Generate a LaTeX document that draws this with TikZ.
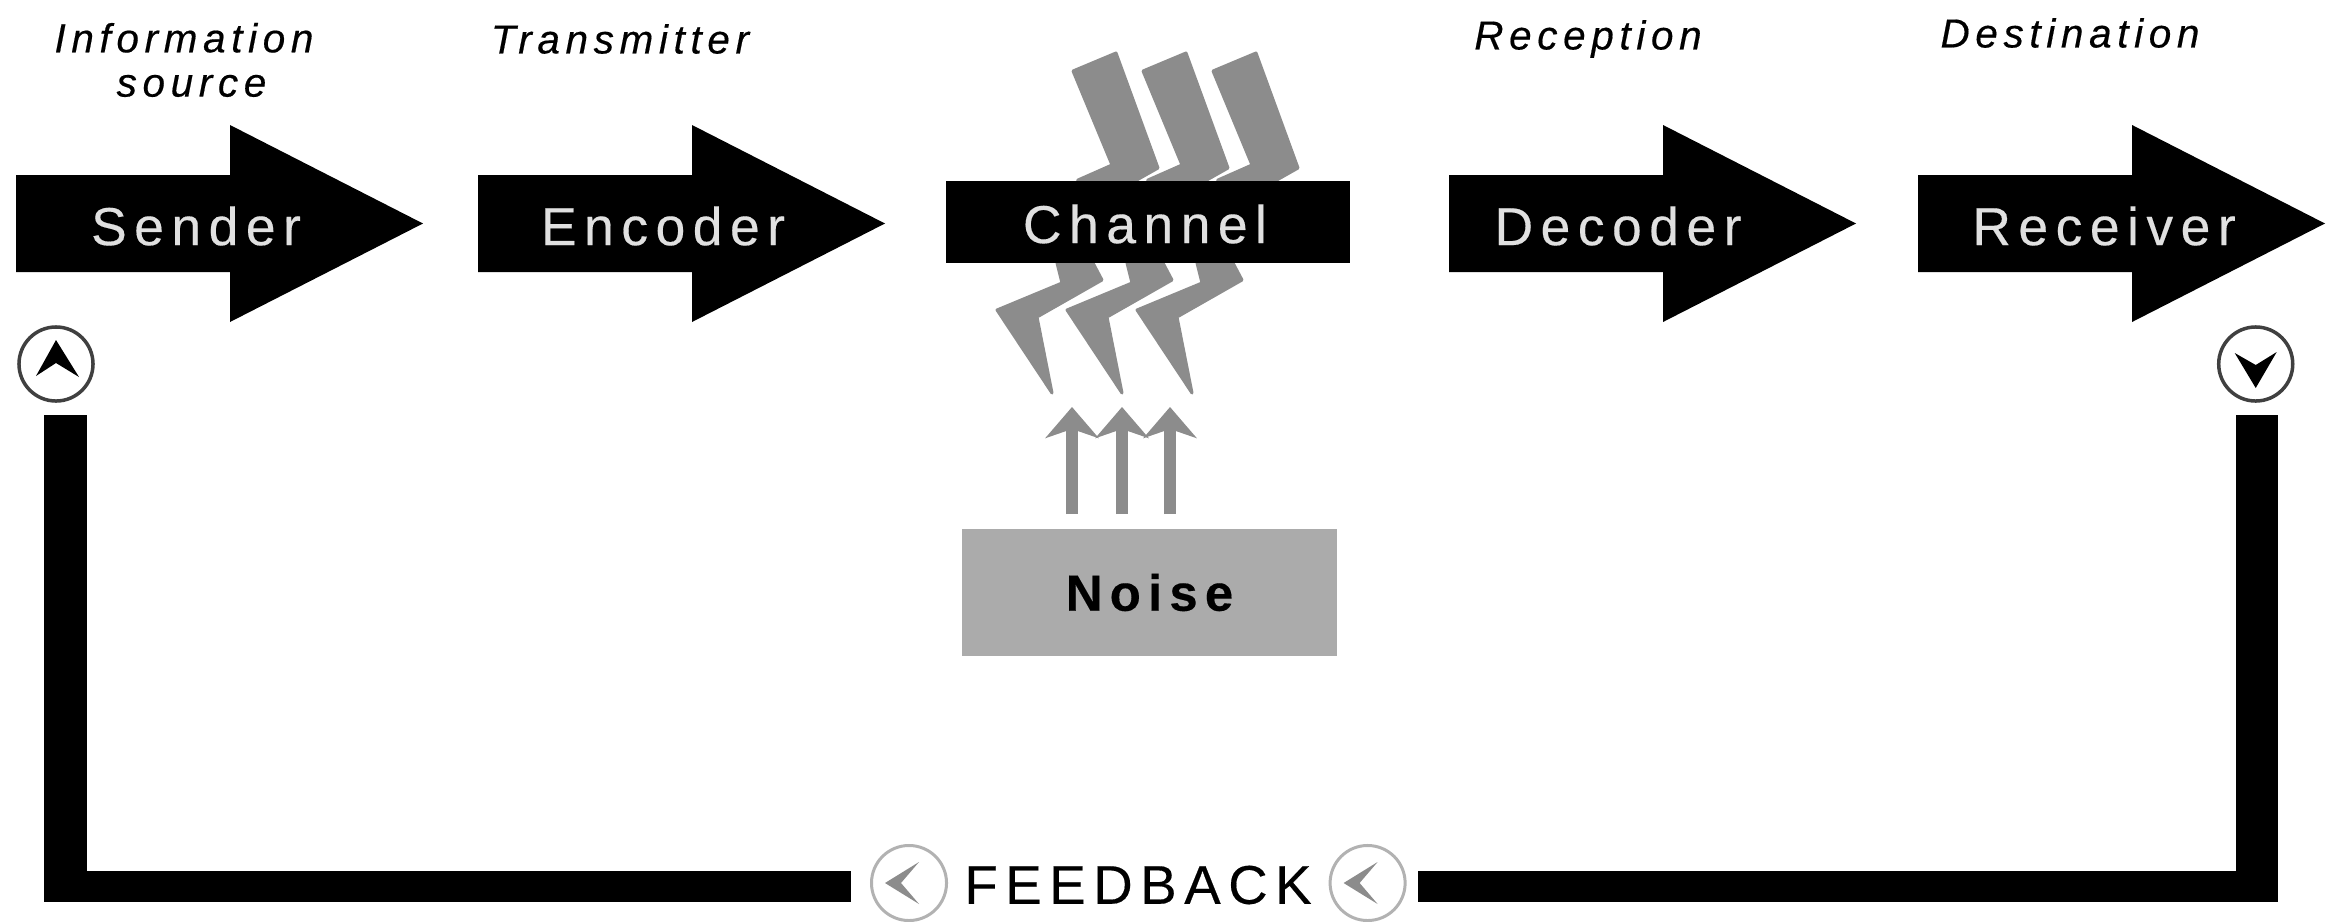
\documentclass[tikz,border=0pt]{standalone}
\usepackage{fontspec}
\setmainfont{Liberation Sans}
\newfontfamily\spacedfont[LetterSpace=14,FakeBold=0.3]{Liberation Sans}
\newfontfamily\captionfont[LetterSpace=14,FakeBold=0.4]{Liberation Sans}
\usetikzlibrary{arrows.meta}

\begin{document}
\begin{tikzpicture}[x=0.01cm,y=-0.01cm]
   \tikzstyle{every node}=[inner sep=0pt]
   \tikzstyle{blocktext}=[text=black!12,font=\spacedfont\fontsize{15.2}{18}\selectfont]
   \tikzstyle{caption}=[align=center,font=\captionfont\itshape\fontsize{11.5}{12.6}\selectfont]
   \tikzstyle{bolt}=[fill=black!45,draw=black!45,line width=0.03cm,line join=round]
   \tikzstyle{noisearrow}=[draw=black!45,line width=0.12cm,-{Stealth[length=0.31cm,width=0.53cm,inset=0.09cm]}]
   \tikzstyle{feedbackv}=[line width=0.42cm]
   \tikzstyle{feedbackh}=[line width=0.31cm]
   \tikzstyle{blackmark}=[circle,draw=black!75,fill=white,line width=0.035cm,minimum size=0.74cm]
   \tikzstyle{greymark}=[circle,draw=black!30,fill=white,line width=0.03cm,minimum size=0.75cm]

   \useasboundingbox (0,0) rectangle (2328,921);

% captions
   \node[caption] (sourcecap) at (184,60) {Information\\\hspace*{0.15cm}source};
   \node[caption] (transcap) at (620,39) {Transmitter};
   \node[caption] (recepcap) at (1588,39) {Reception};
   \node[caption] (destcap) at (2070,33) {Destination};

% block arrows
   \foreach \x in {16,478,1449,1918}{
      \fill (\x,175) -- (\x+214,175) -- (\x+214,125) -- (\x+407,223.5)
         -- (\x+214,322) -- (\x+214,272) -- (\x,272) -- cycle;
   }
   \node[blocktext] (sender) at (196,226) {Sender};
   \node[blocktext] (encoder) at (663,226) {Encoder};
   \node[blocktext] (decoder) at (1618,226) {Decoder};
   \node[blocktext] (receiver) at (2104,226) {Receiver};

% lightning
   \foreach \dx in {0,70,140}{
      \fill[bolt,shift={(\dx,0)}] (1073,71) -- (1116,53) -- (1158,168) -- (1135,181)
         -- (1093,263) -- (1102,280) -- (1037,317) -- (1052,393) -- (997,310)
         -- (1062,283) -- (1057,263) -- (1078,180) -- (1112,165) -- cycle;
   }

% channel and noise
   \node[fill=black,minimum width=4.04cm,minimum height=0.82cm] (channel) at (1148,222) {};
   \node[blocktext] (channeltext) at (1145,224) {Channel};
   \node[fill=black!33,minimum width=3.75cm,minimum height=1.27cm,font=\spacedfont\bfseries\fontsize{14.5}{18}\selectfont] (noise) at (1149.5,592.5) {Noise};
   \foreach \x/\nm in {1072/a,1122/b,1170/c}{
      \coordinate (noisetip\nm) at (\x,407);
      \draw[noisearrow] (\x,514) -- (noisetip\nm);
   }

% feedback loop
   \node[blackmark] (upmark) at (56,364) {};
   \fill (upmark.center) ++(0,-24) -- ++(23,37) -- ++(-23,-14) -- ++(-20,13) -- cycle;
   \node[blackmark] (downmark) at (2255.7,364) {};
   \fill (downmark.center) ++(0,24) -- ++(21,-36) -- ++(-21,13) -- ++(-21,-12) -- cycle;

   \node[font=\spacedfont\fontsize{15.5}{18}\selectfont] (feedback) at (1138,885) {FEEDBACK};
   \node[greymark] (leftfb) at (909,883) {};
   \fill[black!45] (leftfb.center) ++(-24,0) -- ++(34,-21) -- ++(-18,21) -- ++(18,21) -- cycle;
   \node[greymark] (rightfb) at (1367.6,883) {};
   \fill[black!45] (rightfb.center) ++(-24,0) -- ++(34,-21) -- ++(-18,21) -- ++(18,21) -- cycle;

   \coordinate (lefttop) at (65.5,415);
   \coordinate (leftbottom) at (65.5,902);
   \coordinate (leftend) at (44,886.5);
   \coordinate (leftstop) at (851,886.5);
   \coordinate (righttop) at (2256.5,415);
   \coordinate (rightbottom) at (2256.5,902);
   \coordinate (rightend) at (2277.5,886.5);
   \coordinate (rightstop) at (1418,886.5);
   \draw[feedbackv] (lefttop) -- (leftbottom);
   \draw[feedbackv] (righttop) -- (rightbottom);
   \draw[feedbackh] (leftend) -- (leftstop);
   \draw[feedbackh] (rightend) -- (rightstop);

\end{tikzpicture}
\end{document}
